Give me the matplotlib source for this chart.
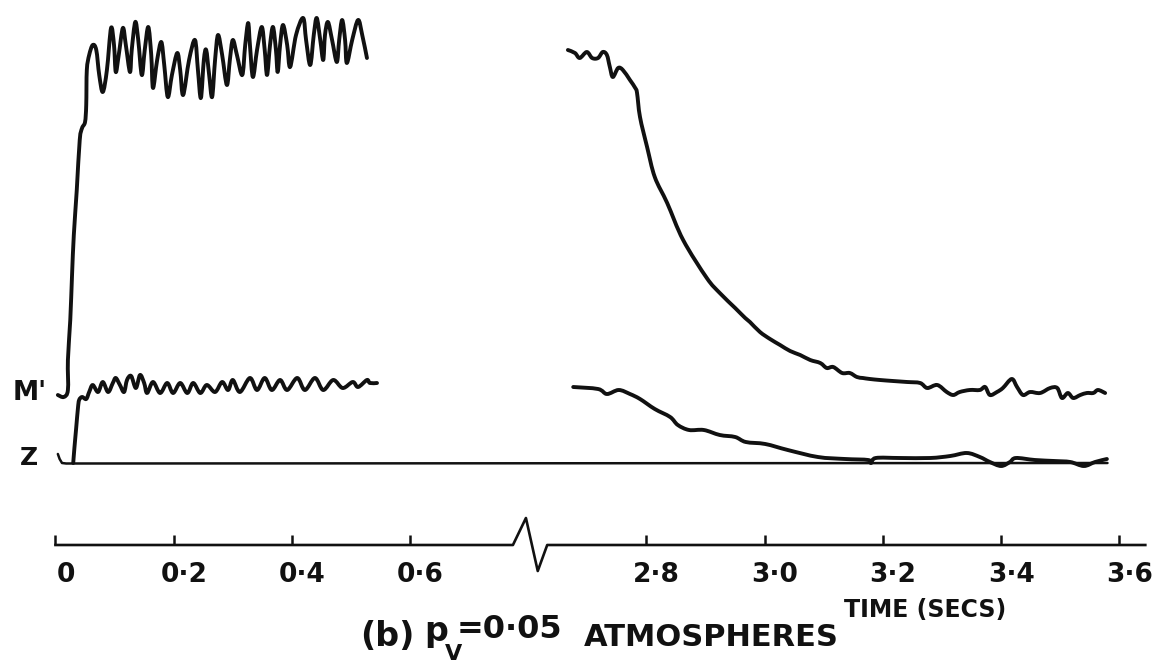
import numpy as np
import matplotlib
matplotlib.use("Agg")
import matplotlib.pyplot as plt
import matplotlib.transforms as mtransforms
from matplotlib.path import Path
from matplotlib.patches import PathPatch

# trace records: time in seconds, deflection in arbitrary units above the Z line
upper_left_t = [0.004, 0.014, 0.021, 0.021, 0.025, 0.028, 0.031, 0.036, 0.041, 0.045,
                0.050, 0.052, 0.053, 0.057, 0.063, 0.069, 0.074, 0.080, 0.087, 0.094,
                0.099, 0.102, 0.107, 0.114, 0.119, 0.126, 0.129, 0.135, 0.140, 0.146,
                0.151, 0.157, 0.162, 0.165, 0.172, 0.179, 0.184, 0.190, 0.197, 0.206,
                0.211, 0.216, 0.226, 0.236, 0.241, 0.246, 0.251, 0.255, 0.260, 0.265,
                0.270, 0.275, 0.282, 0.290, 0.295, 0.300, 0.307, 0.316, 0.321, 0.326,
                0.329, 0.334, 0.341, 0.349, 0.354, 0.358, 0.363, 0.368, 0.373, 0.376,
                0.380, 0.385, 0.392, 0.397, 0.407, 0.419, 0.424, 0.431, 0.437, 0.442,
                0.448, 0.453, 0.456, 0.461, 0.468, 0.476, 0.480, 0.485, 0.490, 0.493,
                0.502, 0.512, 0.519, 0.527]
upper_left_y = [0.68, 0.66, 0.73, 1.03, 1.43, 1.88, 2.28, 2.73, 3.23, 3.35,
                3.41, 3.58, 3.93, 4.08, 4.18, 4.13, 3.88, 3.71, 3.93, 4.35,
                4.18, 3.91, 4.08, 4.35, 4.18, 3.91, 4.13, 4.41, 4.23, 3.88,
                4.13, 4.36, 4.08, 3.75, 4.03, 4.21, 3.98, 3.66, 3.88, 4.10,
                3.93, 3.68, 4.03, 4.23, 3.93, 3.65, 4.03, 4.13, 3.88, 3.66,
                4.03, 4.28, 4.08, 3.78, 4.03, 4.23, 4.08, 3.88, 4.18, 4.40,
                4.18, 3.86, 4.13, 4.36, 4.13, 3.88, 4.18, 4.36, 4.13, 3.91,
                4.18, 4.38, 4.18, 3.96, 4.28, 4.45, 4.23, 3.98, 4.28, 4.45,
                4.23, 4.03, 4.28, 4.41, 4.23, 4.01, 4.23, 4.43, 4.23, 4.00,
                4.23, 4.43, 4.28, 4.05]

mprime_left_t = [0.030, 0.032, 0.035, 0.038, 0.040, 0.045, 0.052, 0.057, 0.063, 0.072,
                 0.080, 0.089, 0.097, 0.102, 0.109, 0.116, 0.121, 0.128, 0.136, 0.143,
                 0.150, 0.155, 0.165, 0.177, 0.189, 0.199, 0.211, 0.223, 0.233, 0.245,
                 0.256, 0.270, 0.282, 0.292, 0.300, 0.312, 0.329, 0.341, 0.354, 0.366,
                 0.380, 0.392, 0.409, 0.422, 0.439, 0.453, 0.470, 0.486, 0.503, 0.512,
                 0.527, 0.532, 0.544]
mprime_left_y = [0.00, 0.15, 0.35, 0.55, 0.63, 0.66, 0.64, 0.71, 0.78, 0.71,
                 0.81, 0.71, 0.80, 0.85, 0.78, 0.71, 0.83, 0.87, 0.75, 0.88,
                 0.80, 0.70, 0.81, 0.70, 0.80, 0.70, 0.80, 0.70, 0.80, 0.70,
                 0.78, 0.71, 0.81, 0.73, 0.83, 0.71, 0.85, 0.73, 0.85, 0.73,
                 0.83, 0.73, 0.85, 0.73, 0.85, 0.73, 0.83, 0.75, 0.81, 0.76,
                 0.83, 0.80, 0.80]

upper_right_t = [2.667, 2.679, 2.687, 2.699, 2.708, 2.718, 2.726, 2.733, 2.738, 2.743,
                 2.752, 2.760, 2.772, 2.781, 2.784, 2.789, 2.801, 2.814, 2.835, 2.862,
                 2.902, 2.924, 2.950, 2.967, 2.975, 2.992, 3.009, 3.026, 3.043, 3.060,
                 3.077, 3.094, 3.105, 3.116, 3.131, 3.144, 3.156, 3.166, 3.178, 3.195,
                 3.217, 3.241, 3.263, 3.275, 3.292, 3.308, 3.319, 3.330, 3.347, 3.364,
                 3.373, 3.381, 3.393, 3.403, 3.418, 3.427, 3.437, 3.449, 3.466, 3.483,
                 3.495, 3.503, 3.513, 3.522, 3.534, 3.545, 3.556, 3.564, 3.576]
upper_right_y = [4.13, 4.10, 4.05, 4.11, 4.05, 4.05, 4.11, 4.08, 3.96, 3.86,
                 3.95, 3.93, 3.83, 3.75, 3.70, 3.46, 3.16, 2.86, 2.60, 2.23,
                 1.85, 1.70, 1.55, 1.45, 1.41, 1.31, 1.24, 1.18, 1.12, 1.08,
                 1.03, 1.00, 0.95, 0.96, 0.90, 0.90, 0.86, 0.85, 0.84, 0.83,
                 0.82, 0.81, 0.80, 0.75, 0.78, 0.71, 0.68, 0.71, 0.73, 0.73,
                 0.76, 0.68, 0.71, 0.75, 0.84, 0.76, 0.68, 0.71, 0.70, 0.75,
                 0.75, 0.65, 0.70, 0.65, 0.68, 0.70, 0.70, 0.73, 0.70]

lower_right_t = [2.676, 2.718, 2.733, 2.753, 2.772, 2.789, 2.814, 2.840, 2.853, 2.872,
                 2.897, 2.924, 2.950, 2.968, 3.001, 3.039, 3.090, 3.136, 3.175, 3.180,
                 3.188, 3.229, 3.280, 3.314, 3.342, 3.364, 3.381, 3.400, 3.415, 3.425,
                 3.457, 3.490, 3.517, 3.540, 3.559, 3.579]
lower_right_y = [0.76, 0.74, 0.69, 0.73, 0.69, 0.64, 0.54, 0.46, 0.38, 0.33,
                 0.33, 0.28, 0.26, 0.21, 0.19, 0.13, 0.06, 0.04, 0.03, 0.00,
                 0.05, 0.05, 0.05, 0.07, 0.10, 0.06, 0.01, -0.03, 0.01, 0.05,
                 0.03, 0.02, 0.01, -0.03, 0.01, 0.04]

zero_line_t = [0.004, 0.007, 0.011, 0.018, 3.580]
zero_line_y = [0.09, 0.04, 0.00, -0.005, 0.0]

tick_times = [0, 0.2, 0.4, 0.6, 2.8, 3.0, 3.2, 3.4, 3.6]
tick_labels = ["0", "0·2", "0·4", "0·6", "2·8", "3·0", "3·2", "3·4", "3·6"]

GAP = 1.8        # seconds cut out of the time scale between 0.8 and 2.6
AXIS_Y = -0.82   # where the time scale is drawn under the traces
ink = "#111111"


def axis_pos(t):
    t = np.asarray(t, dtype=float)
    return np.where(t > 1.5, t - GAP, t)


def pen_trace(ax, t, y, lw=2.8):
    # draw the trace as a pen stroke: bezier curve passing through every read point
    p = np.column_stack([axis_pos(t), y])
    ext = np.vstack([p[:1], p, p[-1:]])
    verts = [p[0]]
    codes = [Path.MOVETO]
    for i in range(len(p) - 1):
        a, b = ext[i], ext[i + 1]
        c, d = ext[i + 2], ext[i + 3]
        verts += [b + (c - a) / 6, c - (d - b) / 6, c]
        codes += [Path.CURVE4] * 3
    ax.add_patch(PathPatch(Path(verts, codes), fill=False, edgecolor=ink, lw=lw,
                           joinstyle="round", capstyle="round"))


fig = plt.figure(figsize=(11.56, 6.66), dpi=100)
ax = fig.add_axes([0, 0, 1, 1])
ax.set_xlim(-0.0939, 1.8621)
ax.set_ylim(-2.03, 4.63)

pen_trace(ax, upper_left_t, upper_left_y)
pen_trace(ax, mprime_left_t, mprime_left_y)
pen_trace(ax, upper_right_t, upper_right_y)
pen_trace(ax, lower_right_t, lower_right_y)
ax.plot(axis_pos(zero_line_t), zero_line_y, color=ink, lw=1.8,
        solid_capstyle="round", solid_joinstyle="round")

# time scale with its break mark
ax.plot([0, 0.774, 0.796, 0.816, 0.832, 1.844],
        [AXIS_Y, AXIS_Y, AXIS_Y + 0.27, AXIS_Y - 0.26, AXIS_Y, AXIS_Y],
        color=ink, lw=1.9, solid_joinstyle="round")

for s in ax.spines.values():
    s.set_visible(False)
ax.spines["bottom"].set_position(("data", AXIS_Y))
ax.set_yticks([])
ax.set_xticks(axis_pos(tick_times))
ax.set_xticklabels(tick_labels, fontweight="bold")
ax.tick_params(axis="x", direction="in", length=7, width=1.8, color=ink,
               pad=12, labelsize=19, labelcolor=ink)
shift = mtransforms.ScaledTranslation(0.10, 0, fig.dpi_scale_trans)
for lbl in ax.get_xticklabels():
    lbl.set_transform(lbl.get_transform() + shift)

# text placed in pixel units of the 1156x666 picture
px = mtransforms.Affine2D().scale(1 / 1156, -1 / 666).translate(0, 1) + fig.transFigure
tk = dict(transform=px, color=ink, fontweight="bold", family="DejaVu Sans")
fig.text(30, 393, "M'", fontsize=19, ha="center", va="center", **tk)
fig.text(29, 458, "Z", fontsize=18, ha="center", va="center", **tk)
fig.text(925, 610, "TIME (SECS)", fontsize=17, ha="center", va="center", **tk)
fig.text(360, 637, "(b)", fontsize=24, ha="left", va="center", **tk)
fig.text(424, 632, "p", fontsize=24, ha="left", va="center", **tk)
fig.text(445, 654, "V", fontsize=16, ha="left", va="center", **tk)
fig.text(457, 630, "=0·05", fontsize=23, ha="left", va="center", **tk)
fig.text(584, 638, "ATMOSPHERES", fontsize=22, ha="left", va="center", **tk)

fig.savefig("out.png", dpi=100)
